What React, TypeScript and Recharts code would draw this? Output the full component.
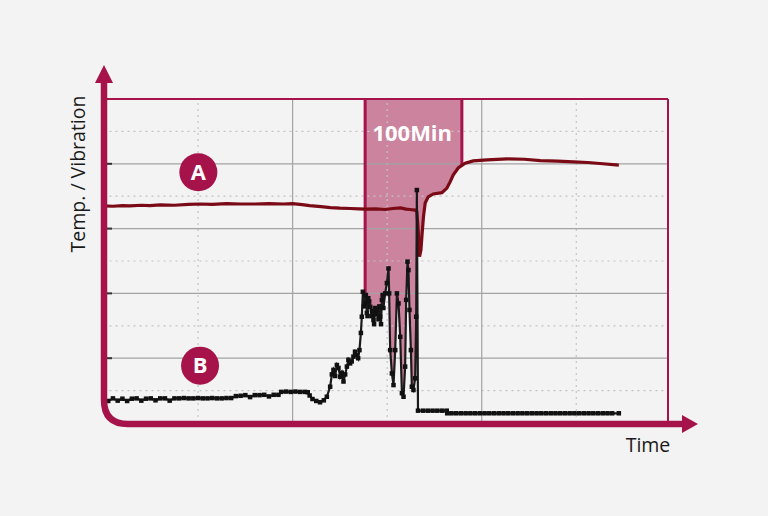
import React from 'react';
import { ComposedChart, Line, Area, XAxis, YAxis, ReferenceLine, ReferenceDot } from 'recharts';

// [minute, level]
const temperature: [number, number][] = [
  [0, 6.7], [10, 6.69], [20, 6.71], [28, 6.7], [40, 6.72], [49, 6.71], [60, 6.73], [75, 6.72],
  [90, 6.75], [102, 6.76], [115, 6.75], [130, 6.77], [145, 6.76], [160, 6.76], [175, 6.77],
  [190, 6.76], [200, 6.77], [210, 6.74], [218, 6.71], [230, 6.68], [240, 6.65], [250, 6.63],
  [261, 6.62], [270, 6.61], [277, 6.6], [288, 6.61], [298, 6.59], [306, 6.62], [314, 6.64],
  [320, 6.6], [324, 6.59], [329.6, 6.57], [331.4, 6.52], [332.8, 5.96], [334.2, 5.13],
  [335.7, 5.34], [337, 5.86], [338.4, 6.37], [340.2, 6.79], [343.4, 6.98], [348.7, 7.07],
  [357.9, 7.11], [363.2, 7.25], [366.7, 7.45], [369.8, 7.65], [375.1, 7.87], [379, 7.95],
  [382.5, 8.02], [391, 8.09], [405.8, 8.12], [427, 8.15], [445, 8.14], [462, 8.1], [480, 8.08],
  [497, 8.06], [512, 8.04], [525, 8.01], [545, 7.96],
];

const vibration: [number, number][] = [
  [0, 0.74], [5, 0.68], [10, 0.76], [15, 0.69], [20, 0.75], [25, 0.68], [30, 0.75], [35, 0.76],
  [40, 0.69], [45, 0.75], [50, 0.76], [55, 0.7], [60, 0.76], [65, 0.76], [70, 0.69], [75, 0.76],
  [80, 0.76], [85, 0.77], [90, 0.76], [95, 0.76], [100, 0.77], [105, 0.76], [110, 0.76],
  [115, 0.77], [120, 0.76], [125, 0.76], [130, 0.77], [135, 0.77], [140, 0.83], [145, 0.84],
  [150, 0.86], [155, 0.8], [160, 0.86], [165, 0.86], [170, 0.87], [175, 0.82], [180, 0.87],
  [185, 0.87], [188, 0.96], [193, 0.97], [198, 0.96], [203, 0.97], [208, 0.96], [213, 0.96],
  [216, 0.95], [218, 0.85], [221, 0.74], [225, 0.68], [229, 0.64], [233, 0.7], [236.2, 0.81],
  [239.7, 1.12], [241.5, 1.5], [243.2, 1.64], [245, 1.45], [246.8, 1.79], [248.5, 1.7],
  [250.3, 1.43], [252, 1.55], [253.8, 1.28], [255.6, 1.5], [257.4, 1.74], [259, 1.95],
  [260.8, 1.84], [262.5, 1.9], [264.3, 2.05], [266, 2.2], [267.9, 2.1], [269.3, 2.0],
  [270.7, 2.25], [272.2, 2.78], [273.2, 3.28], [274.3, 4.05], [275.5, 3.6], [276.7, 3.7],
  [277.5, 3.95], [278.5, 3.4], [279.2, 3.3], [280, 3.85], [281, 3.75], [282, 3.59],
  [283.5, 3.3], [284.5, 3.45], [285.5, 3.18], [286.2, 3.05], [287, 3.55], [288, 3.35],
  [289.1, 3.49], [290.8, 3.2], [291.7, 3.6], [292.6, 3.28], [293.5, 3.05], [294.4, 3.8],
  [295.2, 3.95], [296, 3.55], [297.9, 4.0], [299.7, 4.32], [301.4, 4.77], [302.1, 4.0],
  [303.2, 2.25], [305, 1.53], [306.7, 1.17], [308.5, 2.25], [310.3, 4.0], [312, 3.69],
  [313.8, 2.66], [315.6, 0.92], [317.3, 0.81], [319, 1.74], [320.1, 3.8], [321.5, 4.98],
  [322.5, 4.72], [323.6, 3.49], [325.1, 2.25], [326.1, 1.12], [327.8, 1.02], [329.6, 1.38],
  [330.7, 3.28], [331.4, 7.19], [332.6, 0.38], [338, 0.38], [343, 0.38], [348, 0.38],
  [353, 0.38], [358, 0.38], [363, 0.38], [363.5, 0.3], [368, 0.3], [373, 0.3], [378, 0.3],
  [383, 0.3], [388, 0.3], [393, 0.3], [398, 0.3], [403, 0.3], [408, 0.3], [413, 0.3],
  [418, 0.3], [423, 0.3], [428, 0.3], [433, 0.3], [438, 0.3], [443, 0.3], [448, 0.3],
  [453, 0.3], [458, 0.3], [463, 0.3], [468, 0.3], [473, 0.3], [478, 0.3], [483, 0.3],
  [488, 0.3], [493, 0.3], [498, 0.3], [503, 0.3], [508, 0.3], [513, 0.3], [518, 0.3],
  [523, 0.3], [528, 0.3], [533, 0.3], [538, 0.3], [545, 0.3],
];

const bandStart = 276.7;
const bandEnd = 379;
const bandSwitch = 332.5; // window edge follows B until it collapses, then A
const bandLabel = '100Min';

const xSolid = [200, 400];
const xDotted = [100, 300, 500];
const ySolid = [2, 4, 6, 8];
const yDotted = [1, 3, 5, 7, 9];
const X_MAX = 597;
const Y_MAX = 10;

const CRIMSON = '#a6134a';
const FONT = '"Open Sans", "Noto Sans", sans-serif';

const tempData = temperature.map(([t, v]) => ({ t, v }));
const vibData = vibration.map(([t, v]) => ({ t, v }));
const bandData = [
  ...vibData.filter((d) => d.t >= bandStart && d.t < bandSwitch),
  ...tempData.filter((d) => d.t >= bandSwitch && d.t <= bandEnd),
].map((d) => ({ t: d.t, range: [d.v, Y_MAX] }));

const squareDot = (p: any) => (
  <rect key={`sq-${p.index}`} x={p.cx - 2.25} y={p.cy - 2.25} width={4.5} height={4.5} fill="#111" />
);

const badge = (letter: string) => (p: any) => (
  <g>
    <circle cx={p.cx} cy={p.cy} r={19} fill={CRIMSON} />
    <text x={p.cx} y={p.cy + 7.5} textAnchor="middle" fill="#fff" fontSize={22} fontWeight={700} fontFamily={FONT}>
      {letter}
    </text>
  </g>
);

export default function App() {
  return (
    <div style={{ position: 'absolute', left: 0, top: 0, width: 768, height: 516, background: '#f3f3f3' }}>
      <ComposedChart width={768} height={516} margin={{ top: 99, right: 100, bottom: 93, left: 103.5 }}>
        <XAxis type="number" dataKey="t" domain={[0, X_MAX]} hide allowDataOverflow />
        <YAxis type="number" domain={[0, Y_MAX]} hide allowDataOverflow />

        {yDotted.map((y) => (
          <ReferenceLine key={`yd${y}`} y={y} stroke="#c4c4c4" strokeDasharray="2 4" strokeWidth={1.2} />
        ))}
        {xDotted.map((x) => (
          <ReferenceLine key={`xd${x}`} x={x} stroke="#c4c4c4" strokeDasharray="2 4" strokeWidth={1.2} />
        ))}
        {ySolid.map((y) => (
          <ReferenceLine key={`ys${y}`} y={y} stroke="#a3a3a3" strokeWidth={1.2} />
        ))}
        {xSolid.map((x) => (
          <ReferenceLine key={`xs${x}`} x={x} stroke="#a3a3a3" strokeWidth={1.2} />
        ))}
        {ySolid.map((y) => (
          <ReferenceLine key={`yt${y}`} segment={[{ x: 0, y }, { x: 9, y }]} stroke="#333" strokeWidth={2} />
        ))}

        <Area
          data={bandData}
          dataKey="range"
          type="linear"
          fill={CRIMSON}
          fillOpacity={0.5}
          stroke="none"
          isAnimationActive={false}
        />
        <ReferenceLine
          segment={[{ x: bandStart, y: bandData[0].range[0] }, { x: bandStart, y: Y_MAX }]}
          stroke={CRIMSON}
          strokeWidth={3}
        />
        <ReferenceLine
          segment={[{ x: bandEnd, y: bandData[bandData.length - 1].range[0] }, { x: bandEnd, y: Y_MAX }]}
          stroke={CRIMSON}
          strokeWidth={3}
        />

        <ReferenceLine y={Y_MAX} stroke={CRIMSON} strokeWidth={2} />
        <ReferenceLine x={X_MAX} stroke={CRIMSON} strokeWidth={2} />

        <Line
          data={tempData}
          dataKey="v"
          type="linear"
          stroke="#7a0a16"
          strokeWidth={3.2}
          dot={false}
          isAnimationActive={false}
        />
        <Line
          data={vibData}
          dataKey="v"
          type="linear"
          stroke="#1a1a1a"
          strokeWidth={2.2}
          dot={squareDot}
          isAnimationActive={false}
        />

        <ReferenceDot x={100.3} y={7.74} r={19} shape={badge('A')} />
        <ReferenceDot x={102.1} y={1.77} r={19} shape={badge('B')} />
        <ReferenceDot
          x={326.5}
          y={8.95}
          r={0}
          shape={(p: any) => (
            <text x={p.cx} y={p.cy + 7.5} textAnchor="middle" fill="#fff" fontSize={22} fontWeight={700} fontFamily={FONT}>
              {bandLabel}
            </text>
          )}
        />
      </ComposedChart>

      <svg width={768} height={516} style={{ position: 'absolute', left: 0, top: 0, pointerEvents: 'none' }}>
        <path d="M104 80 L104 400 Q104 424 128 424 L684 424" fill="none" stroke={CRIMSON} strokeWidth={6.5} />
        <polygon points="104,65 95,83 113,83" fill={CRIMSON} />
        <polygon points="698,424 682,415 682,433" fill={CRIMSON} />
        <text
          transform="translate(85,174) rotate(-90)"
          textAnchor="middle"
          fontSize={19.5}
          fill="#1a1a1a"
          fontFamily={FONT}
        >
          Temp. / Vibration
        </text>
        <text x={648} y={452} textAnchor="middle" fontSize={19.5} fill="#1a1a1a" fontFamily={FONT}>
          Time
        </text>
      </svg>
    </div>
  );
}
